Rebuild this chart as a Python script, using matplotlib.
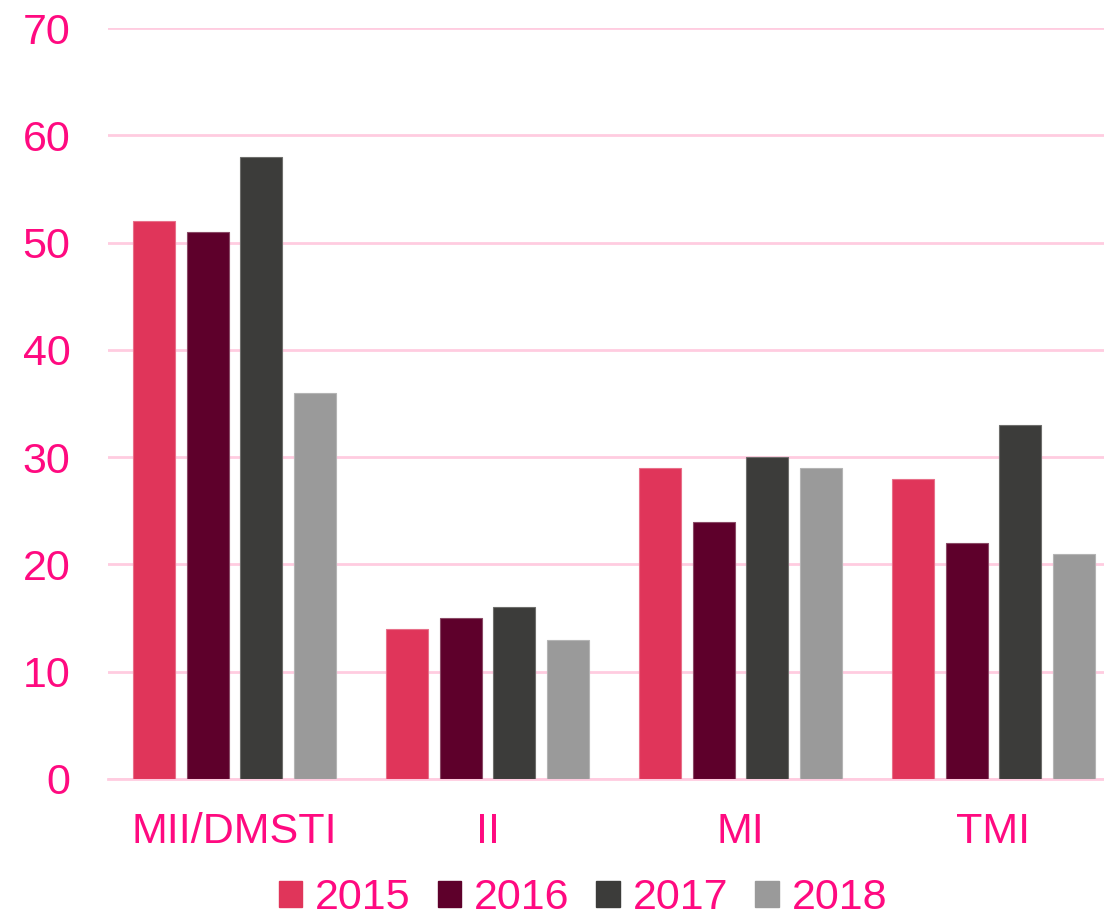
import numpy as np
import matplotlib.pyplot as plt
from matplotlib.patches import Patch

categories = ['MII/DMSTI', 'II', 'MI', 'TMI']
years = ['2015', '2016', '2017', '2018']
values_2015 = [52, 14, 29, 28]
values_2016 = [51, 15, 24, 22]
values_2017 = [58, 16, 30, 33]
values_2018 = [36, 13, 29, 21]
yticks = [0, 10, 20, 30, 40, 50, 60, 70]

series = [values_2015, values_2016, values_2017, values_2018]
colors = ['#E0355A', '#5E002B', '#3C3C3A', '#9A9A9A']
edge_colors = ['#E8708A', '#8A4A66', '#6E6E6C', '#B4B4B4']
pink = '#FF0A80'
grid_pink = '#FFCCE0'

plt.rcParams['font.family'] = ['Liberation Sans', 'DejaVu Sans']

fig = plt.figure(figsize=(11.04, 9.17), dpi=100)
# axes run a little past the right edge, like the source image
ax = fig.add_axes([108 / 1104, 138 / 917, 1012 / 1104, 751 / 917])

x = np.arange(len(categories))
slot = 0.2134
width = 0.166
for i, (vals, col, ec) in enumerate(zip(series, colors, edge_colors)):
    offs = (i - 1.5) * slot
    ax.bar(x + offs, vals, width=width, color=col, edgecolor=ec,
           linewidth=0.8, zorder=3)

ax.set_xlim(-0.5, len(categories) - 0.5)
ax.set_ylim(0, 70)
ax.set_yticks(yticks)
ax.set_xticks(x)
ax.set_xticklabels(categories)

ax.grid(axis='y', color=grid_pink, linewidth=2, zorder=0)
ax.set_axisbelow(True)
for side in ['top', 'right', 'left']:
    ax.spines[side].set_visible(False)
ax.spines['bottom'].set_color(grid_pink)
ax.spines['bottom'].set_linewidth(2)

ax.tick_params(axis='y', length=0, pad=27, labelsize=31, labelcolor=pink)
ax.tick_params(axis='x', length=0, pad=24, labelsize=31, labelcolor=pink)

# legend squares along the bottom edge
handles = [Patch(facecolor=c, edgecolor=c) for c in colors]
fig.legend(handles, years, loc='center', bbox_to_anchor=(583 / 1104, 1 - 898 / 917),
           ncol=4, frameon=False, fontsize=31, labelcolor=pink,
           handlelength=0.55, handleheight=0.55, handletextpad=0.3,
           columnspacing=0.62, borderpad=0)

fig.savefig('out.png', dpi=100)
